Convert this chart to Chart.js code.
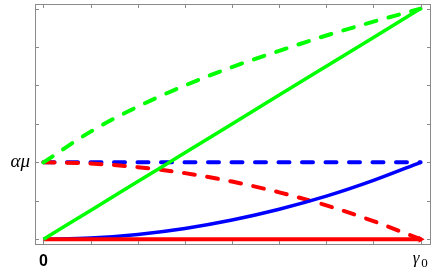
<!DOCTYPE html>
<html>
<head>
<meta charset="utf-8">
<script src="https://cdn.jsdelivr.net/npm/chart.js@4.4.1/dist/chart.umd.min.js"></script>
<style>
  html, body { margin: 0; padding: 0; background: #fff; }
  #wrap { width: 436px; height: 270px; }
</style>
</head>
<body>
<div id="wrap"><canvas id="plot"></canvas></div>
<script>
// x positions from 0 to gamma0 (tick units), y in tick units (alpha*mu = 2)
var xs = [0, 1, 2, 3, 4, 5, 6, 7, 8];
var greenDashed = [2.0, 2.8, 3.45, 4.0, 4.48, 4.9, 5.3, 5.66, 6.0];
var greenSolid = [0, 0.75, 1.5, 2.25, 3.0, 3.75, 4.5, 5.25, 6.0];
var blueDashed = [2, 2, 2, 2, 2, 2, 2, 2, 2];
var blueSolid = [0, 0.03, 0.125, 0.28, 0.5, 0.78, 1.12, 1.53, 2.0];
var redDashed = [2, 1.97, 1.875, 1.72, 1.5, 1.22, 0.88, 0.47, 0];
var redSolid = [0, 0, 0, 0, 0, 0, 0, 0, 0];
var yTicks = [0, 1, 2, 3, 4, 5, 6];
var yLabels = {2: 'αμ'};
var xLabels = {0: '0'};

function pts(ys) {
    return xs.map(function (x, i) { return {x: x, y: ys[i]}; });
}

function line(data, color, dashed, width) {
    return {
        data: pts(data),
        borderColor: color,
        borderWidth: width,
        borderDash: dashed ? [11, 12.5] : [],
        borderCapStyle: dashed ? 'round' : 'butt',
        pointRadius: 0,
        cubicInterpolationMode: 'monotone',
        fill: false
    };
}

// Mathematica-style frame: box round the plot with inward ticks on all sides,
// plus the gamma_0 label (italic gamma with an upright subscript 0)
var frame = {
    id: 'frame',
    afterDatasetsDraw: function (chart) {
        var ctx = chart.ctx, a = chart.chartArea;
        var sx = chart.scales.x, sy = chart.scales.y;
        ctx.save();
        ctx.strokeStyle = '#8a8a8a';
        ctx.lineWidth = 1;
        ctx.strokeRect(a.left + 0.5, a.top + 0.5, a.right - a.left - 1, a.bottom - a.top - 1);
        ctx.beginPath();
        xs.forEach(function (v) {
            var px = Math.round(sx.getPixelForValue(v)) + 0.5;
            ctx.moveTo(px, a.bottom); ctx.lineTo(px, a.bottom - 4);
            ctx.moveTo(px, a.top); ctx.lineTo(px, a.top + 4);
        });
        yTicks.forEach(function (v) {
            var py = Math.round(sy.getPixelForValue(v)) + 0.5;
            ctx.moveTo(a.left, py); ctx.lineTo(a.left + 4, py);
            ctx.moveTo(a.right, py); ctx.lineTo(a.right - 4, py);
        });
        ctx.stroke();

        var gx = sx.getPixelForValue(xs[xs.length - 1]);
        ctx.fillStyle = '#000';
        ctx.textBaseline = 'alphabetic';
        ctx.textAlign = 'left';
        ctx.font = 'italic 17px "Liberation Serif"';
        ctx.fillText('γ', gx - 8, 263);
        ctx.font = '13px "Liberation Serif"';
        ctx.fillText('0', gx + 0.5, 267);
        ctx.restore();
    }
};

var ctx = document.getElementById('plot').getContext('2d');
var redLine = line(redSolid, '#ff0000', false, 4);
redLine.pointRadius = xs.map(function (x, i) { return i === xs.length - 1 ? 4 : 0; });
redLine.pointStyle = 'triangle';
redLine.rotation = 90;
redLine.pointBackgroundColor = '#ff0000';
redLine.pointBorderWidth = 0;

var myChart = new Chart(ctx, {
    type: 'line',
    data: {
        datasets: [
            line(greenDashed, '#00ff00', true, 4),
            line(greenSolid, '#00ff00', false, 3.5),
            redLine,
            line(blueSolid, '#0000ff', false, 3.5),
            line(redDashed, '#ff0000', true, 4),
            line(blueDashed, '#0000ff', true, 4)
        ]
    },
    plugins: [frame],
    options: {
        responsive: true,
        maintainAspectRatio: false,
        animation: false,
        layout: { padding: { top: 0, right: 5, left: 0, bottom: 0 } },
        plugins: { legend: { display: false }, tooltip: { enabled: false } },
        scales: {
            x: {
                type: 'linear',
                min: -0.18,
                max: 8.22,
                afterBuildTicks: function (s) { s.ticks = xs.map(function (v) { return {value: v}; }); },
                afterFit: function (s) { s.height = 25; s.paddingLeft = 0; s.paddingRight = 0; },
                border: { display: false },
                grid: { display: false, drawTicks: false },
                ticks: {
                    autoSkip: false,
                    maxRotation: 0,
                    padding: 7,
                    color: '#000',
                    font: { family: 'Liberation Sans', size: 16, weight: 'bold' },
                    callback: function (v) { return xLabels[v] || ''; }
                }
            },
            y: {
                min: -0.15,
                max: 6.12,
                afterBuildTicks: function (s) { s.ticks = yTicks.map(function (v) { return {value: v}; }); },
                afterFit: function (s) { s.width = 35; s.paddingTop = 0; s.paddingBottom = 0; },
                border: { display: false },
                grid: { display: false, drawTicks: false },
                ticks: {
                    padding: 5,
                    color: '#000',
                    font: { family: 'Liberation Serif', size: 19, style: 'italic' },
                    callback: function (v) { return yLabels[v] || ''; }
                }
            }
        }
    }
});
</script>
</body>
</html>
